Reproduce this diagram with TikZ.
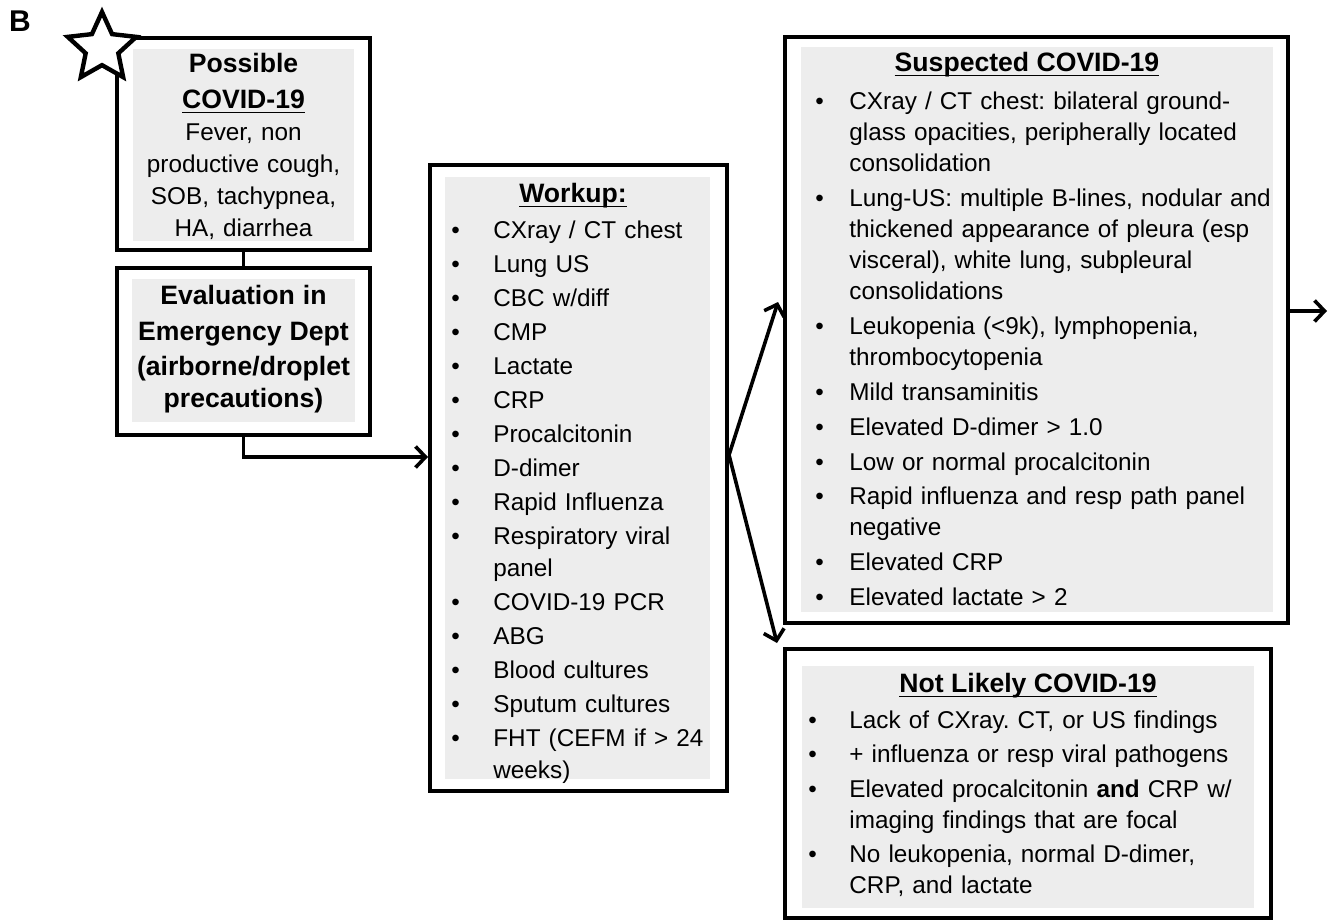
\documentclass[tikz,border=0pt]{standalone}
\usepackage{fontspec}
\setmainfont{Liberation Sans}
\usetikzlibrary{shapes,arrows.meta,calc,positioning}

\frenchspacing
\newsavebox{\ulbox}
\newcommand{\titlef}{\bfseries\fontsize{13.3}{17.8}\selectfont}
\newcommand{\bitem}[2]{\hangindent=#1\hangafter=1\noindent\makebox[#1][l]{\textbullet}#2\par}
\newcommand{\uln}[1]{\leavevmode\sbox{\ulbox}{#1}\rlap{\raisebox{-2.4pt}{\rule{\wd\ulbox}{0.9pt}}}\usebox{\ulbox}}

\begin{document}
\begin{tikzpicture}[x=0.5pt,y=-0.5pt,
    box/.style={draw,line width=2pt,inner sep=0pt},
    shade/.style={fill=black!7},
    ctext/.style={inner sep=0pt,align=center,anchor=base,font=\fontsize{12.15}{16}\selectfont},
    ltext/.style={inner sep=0pt,align=left,anchor=base west},
    ttext/.style={inner sep=0pt,anchor=base,font=\titlef},
    arr/.style={line width=1.8pt,-{Straight Barb[length=5pt,width=10.5pt]}},
    link/.style={line width=1.8pt}]
       \useasboundingbox (0,0) rectangle (1336,920);

       \coordinate (P) at (243.5,144);
       \coordinate (E) at (243.5,351.5);
       \coordinate (W) at (578.5,478);
       \coordinate (S) at (1036.5,330);
       \coordinate (N) at (1028,783.5);

       \coordinate (turn) at (247,457);
       \coordinate (fork) at (728,455);
       \coordinate (uptip) at (778,302);
       \coordinate (downtip) at (777,643);
       \coordinate (exit) at (1327,311);

       % grey panels behind the text
       \fill[shade] (133,49) rectangle (354,241);
       \fill[shade] (132,279) rectangle (355,422);
       \fill[shade] (445,177) rectangle (710,779);
       \fill[shade] (801,47) rectangle (1273,612);
       \fill[shade] (802,666) rectangle (1254,908);

       \node[box,minimum width=126.5pt,minimum height=106pt] (possible) at (P) {};
       \node[box,minimum width=126.5pt,minimum height=83.5pt] (eval) at (E) {};
       \node[box,minimum width=148.5pt,minimum height=313pt] (workup) at (W) {};
       \node[box,minimum width=251.5pt,minimum height=293pt] (suspected) at (S) {};
       \node[box,minimum width=243pt,minimum height=134.5pt] (notlikely) at (N) {};

       \node[ttext,font=\bfseries\fontsize{15}{18}\selectfont] (panel) at (20,32) {B};
       \node[star,star points=5,star point ratio=2.1,draw,fill=white,line width=2.2pt,
             minimum size=36pt,inner sep=0pt] (star) at (102,48) {};

       \node[ctext,text width=115pt] (possibletxt) at (243.5,73)
           {{\titlef Possible\par}{\titlef\uln{COVID-19}\par}Fever, non\\ productive cough,\\ SOB, tachypnea,\\ HA, diarrhea};
       \node[ctext,text width=120pt] (evaltxt) at (243.5,304.5)
           {\titlef Evaluation in\\ Emergency Dept\\ (airborne/droplet\\ precautions)};

       \node[ttext] (workuptitle) at (573,202.5) {\uln{Workup:}};
       \node[ltext,text width=140pt,font=\fontsize{12.15}{16}\selectfont] (workuplist) at (451,238)
           {\setlength{\parskip}{1pt}%
            \bitem{21pt}{CXray / CT chest}%
            \bitem{21pt}{Lung US}%
            \bitem{21pt}{CBC w/diff}%
            \bitem{21pt}{CMP}%
            \bitem{21pt}{Lactate}%
            \bitem{21pt}{CRP}%
            \bitem{21pt}{Procalcitonin}%
            \bitem{21pt}{D-dimer}%
            \bitem{21pt}{Rapid Influenza}%
            \bitem{21pt}{Respiratory viral\newline panel}%
            \bitem{21pt}{COVID-19 PCR}%
            \bitem{21pt}{ABG}%
            \bitem{21pt}{Blood cultures}%
            \bitem{21pt}{Sputum cultures}%
            \bitem{21pt}{FHT (CEFM if > 24\newline weeks)}};

       \node[ttext] (suspectedtitle) at (1027,71.5) {\uln{Suspected COVID-19}};
       \node[ltext,text width=250pt,font=\fontsize{12.15}{15.5}\selectfont] (suspectedlist) at (815,110)
           {\setlength{\parskip}{1.9pt}%
            \bitem{17pt}{CXray / CT chest: bilateral ground-\newline glass opacities, peripherally located\newline consolidation}%
            \bitem{17pt}{Lung-US: multiple B-lines, nodular and\newline thickened appearance of pleura (esp\newline visceral), white lung, subpleural\newline consolidations}%
            \bitem{17pt}{Leukopenia (<9k), lymphopenia,\newline thrombocytopenia}%
            \bitem{17pt}{Mild transaminitis}%
            \bitem{17pt}{Elevated D-dimer > 1.0}%
            \bitem{17pt}{Low or normal procalcitonin}%
            \bitem{17pt}{Rapid influenza and resp path panel\newline negative}%
            \bitem{17pt}{Elevated CRP}%
            \bitem{17pt}{Elevated lactate > 2}};

       \node[ttext] (notlikelytitle) at (1028,692.5) {\uln{Not Likely COVID-19}};
       \node[ltext,text width=230pt,font=\fontsize{12.15}{15.5}\selectfont] (notlikelylist) at (808,728)
           {\setlength{\parskip}{1.8pt}%
            \bitem{20.5pt}{Lack of CXray. CT, or US findings}%
            \bitem{20.5pt}{+ influenza or resp viral pathogens}%
            \bitem{20.5pt}{Elevated procalcitonin \textbf{and} CRP w/\newline imaging findings that are focal}%
            \bitem{20.5pt}{No leukopenia, normal D-dimer,\newline CRP, and lactate}};

       % connectors
       \draw[link] (possible.south) -- (eval.north);
       \draw[arr] (eval.south) |- (workup.west |- turn);
       \draw[arr] (workup.east |- fork) -- (uptip);
       \draw[arr] (workup.east |- fork) -- (downtip);
       \draw[arr] (suspected.east |- exit) -- (exit);
\end{tikzpicture}
\end{document}
